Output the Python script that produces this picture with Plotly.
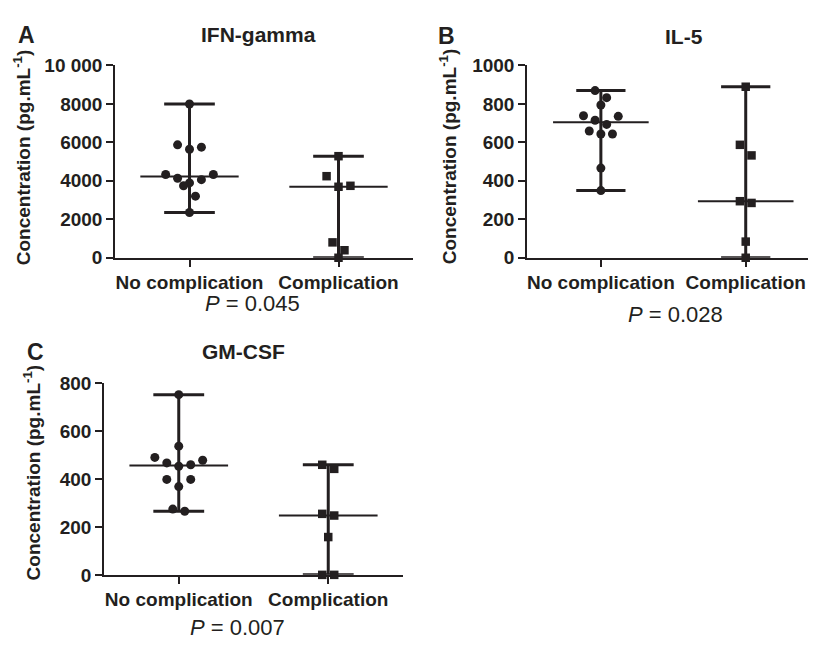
import numpy as np
import plotly.graph_objects as go

# ---------------- data ----------------
groups = ["No complication", "Complication"]

ifn_no = [7990, 5870, 5750, 5640, 4330, 4330, 4130, 4060, 3890, 3740, 3200, 2350]
ifn_comp = [5280, 4240, 3740, 3690, 800, 390, 0]

il5_no = [869, 832, 794, 738, 735, 715, 693, 659, 643, 643, 466, 349]
il5_comp = [889, 587, 532, 294, 285, 84, 0]

gm_no = [753, 538, 491, 479, 468, 460, 454, 399, 399, 369, 275, 266]
gm_comp = [460, 443, 255, 248, 158, 0, 0]

panel_titles = ["IFN-gamma", "IL-5", "GM-CSF"]
panel_letters = ["A", "B", "C"]
p_values = ["0.045", "0.028", "0.007"]

ifn_ticks = [0, 2000, 4000, 6000, 8000, 10000]
ifn_tick_text = ["0", "2000", "4000", "6000", "8000", "10 000"]
il5_ticks = [0, 200, 400, 600, 800, 1000]
gm_ticks = [0, 200, 400, 600, 800]

y_title = "Concentration (pg.mL<sup>-1</sup>)"

# ---------------- style ----------------
INK = "#231f20"
PAGE_W, PAGE_H = 816, 648
OFF = 8                      # default page margin around the figure
W, H = PAGE_W - 2 * OFF, PAGE_H - 2 * OFF
PLOT_PX = 199                # plot height in px
FONT = "Liberation Sans, Arial, sans-serif"


def fx(px):
    return (px - OFF) / W


def fy(py):
    return 1 - (py - OFF) / H


def swarm(vals, ymax, gap_px=11, step=0.08):
    """Group close values and spread them horizontally (outer first)."""
    thr = gap_px * ymax / PLOT_PX
    order = sorted(range(len(vals)), key=lambda i: -vals[i])
    grps, cur = [], []
    for i in order:
        if cur and vals[cur[0]] - vals[i] > thr:
            grps.append(cur)
            cur = []
        cur.append(i)
    grps.append(cur)
    offs = [0.0] * len(vals)
    for g in grps:
        n = len(g)
        pos = [(k - (n - 1) / 2) * step for k in range(n)]
        seq = []
        lo, hi = 0, n - 1
        while lo <= hi:
            seq.append(pos[lo])
            if hi != lo:
                seq.append(pos[hi])
            lo += 1
            hi -= 1
        for i, o in zip(g, seq):
            offs[i] = o
    return offs


panels = [
    dict(no=ifn_no, comp=ifn_comp, ymax=10000, ticks=ifn_ticks, ticktext=ifn_tick_text,
         xdom=[fx(115), fx(413)], ydom=[fy(256), fy(57)], xr=[-0.5, 1.5]),
    dict(no=il5_no, comp=il5_comp, ymax=1000, ticks=il5_ticks, ticktext=[str(t) for t in il5_ticks],
         xdom=[fx(527), 1.0], ydom=[fy(256), fy(57)], xr=[-0.51, 1.43]),
    dict(no=gm_no, comp=gm_comp, ymax=800, ticks=gm_ticks, ticktext=[str(t) for t in gm_ticks],
         xdom=[fx(104), fx(403)], ydom=[fy(584), fy(386)], xr=[-0.5, 1.5]),
]

fig = go.Figure()
layout = dict(
    width=W, height=H, margin=dict(l=0, r=0, t=0, b=0),
    paper_bgcolor="white", plot_bgcolor="white", showlegend=False,
    font=dict(family=FONT, color=INK),
)

for p_i, p in enumerate(panels):
    sfx = "" if p_i == 0 else str(p_i + 1)
    xa, ya = "x" + sfx, "y" + sfx
    for g_i, (vals, sym) in enumerate([(p["no"], "circle"), (p["comp"], "square")]):
        v = np.array(vals, dtype=float)
        med, lo, hi = float(np.median(v)), float(v.min()), float(v.max())
        # range (min-max) line
        fig.add_trace(go.Scatter(x=[g_i, g_i], y=[lo, hi], mode="lines",
                                 line=dict(color=INK, width=3), xaxis=xa, yaxis=ya,
                                 cliponaxis=False, hoverinfo="skip"))
        # caps at min and max
        for yv in (lo, hi):
            fig.add_trace(go.Scatter(x=[g_i - 0.17, g_i + 0.17], y=[yv, yv], mode="lines",
                                     line=dict(color=INK, width=3), xaxis=xa, yaxis=ya,
                                     cliponaxis=False, hoverinfo="skip"))
        # median
        fig.add_trace(go.Scatter(x=[g_i - 0.33, g_i + 0.33], y=[med, med], mode="lines",
                                 line=dict(color=INK, width=2), xaxis=xa, yaxis=ya,
                                 cliponaxis=False, hoverinfo="skip"))
        offs = swarm(vals, p["ymax"])
        fig.add_trace(go.Scatter(x=[g_i + o for o in offs], y=vals, mode="markers",
                                 marker=dict(symbol=sym, size=9 if sym == "circle" else 8.5,
                                             color=INK, line=dict(width=0)),
                                 xaxis=xa, yaxis=ya, cliponaxis=False,
                                 name=groups[g_i]))
    layout["xaxis" + sfx] = dict(
        domain=p["xdom"], range=p["xr"], anchor=ya, tickmode="array",
        tickvals=[0, 1], ticktext=groups, showline=True, linecolor=INK, linewidth=1.5,
        ticks="outside", ticklen=7, tickwidth=1.5, tickcolor=INK, showgrid=False,
        zeroline=False, fixedrange=True,
        tickfont=dict(size=19, weight="bold", color=INK, family=FONT),
    )
    layout["yaxis" + sfx] = dict(
        domain=p["ydom"], range=[0, p["ymax"]], anchor=xa, tickmode="array",
        tickvals=p["ticks"], ticktext=p["ticktext"], showline=True, linecolor=INK,
        linewidth=1.5, ticks="outside", ticklen=7, tickwidth=1.5, tickcolor=INK,
        showgrid=False, zeroline=False, fixedrange=True,
        tickfont=dict(size=19, weight="bold", color=INK, family=FONT),
    )

fig.update_layout(**layout)


def ann(text, px, py, size, bold=True, angle=0):
    fig.add_annotation(text=text, x=fx(px), y=fy(py), xref="paper", yref="paper",
                       xanchor="center", yanchor="middle", showarrow=False, textangle=angle,
                       font=dict(size=size, color=INK, weight="bold" if bold else "normal",
                                 family=FONT))


letter_pos = [(26, 26), (446, 27), (35, 353)]
title_pos = [(259, 25), (684, 27), (243, 353)]
p_pos = [(252, 303), (675, 315), (237, 638)]
ytitle_pos = [(22, 152), (448, 151), (32, 478)]

for i in range(3):
    ann(panel_letters[i], *letter_pos[i], 23)
    ann(panel_titles[i], *title_pos[i], 21)
    ann("<i>P</i> = " + p_values[i], *p_pos[i], 22, bold=False)
    ann(y_title, *ytitle_pos[i], 19, angle=-90)

fig.write_html("out.html")
